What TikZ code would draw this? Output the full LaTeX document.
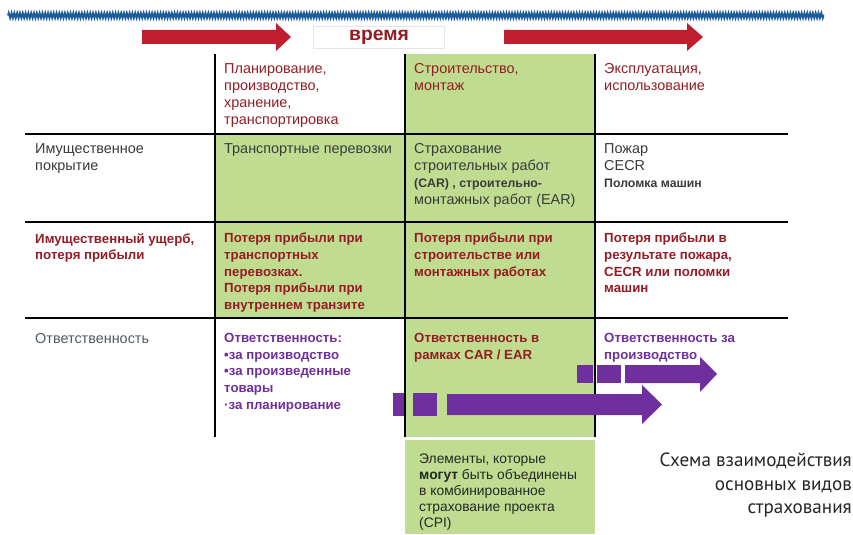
\documentclass[tikz,border=0pt]{standalone}
\usepackage{fontspec}
\setmainfont{Liberation Sans}
\newfontfamily\capfont{PT Sans}
\usetikzlibrary{decorations.pathmorphing}

\definecolor{darkred}{HTML}{951C24}
\definecolor{arrowred}{HTML}{BE1E2D}
\definecolor{cellgreen}{HTML}{C0DC90}
\definecolor{lilac}{HTML}{6F2F9F}
\definecolor{inkgray}{HTML}{3A3A3A}
\definecolor{slate}{HTML}{4E5A66}
\definecolor{waveblue}{HTML}{1D5C9C}

\tikzset{
  cell/.style={anchor=north west, align=left, inner sep=0pt,
    font=\fontsize{12.3}{14.7}\selectfont},
  cellbold/.style={cell, font=\fontsize{11.3}{14.2}\selectfont\bfseries},
  rule/.style={black, line width=1.5pt},
  colline/.style={black, line width=1.1pt},
}

\begin{document}
\begin{tikzpicture}[x=0.03cm, y=-0.03cm]

\useasboundingbox[fill=white] (0,0) rectangle (853,534);

% green cells
\fill[cellgreen] (405,54) rectangle (595,437);
\fill[cellgreen] (215,134) rectangle (405,318);
\fill[cellgreen] (405,440) rectangle (595,534);

% blue wavy line
\draw[waveblue, line width=1.6pt, decorate,
  decoration={zigzag, segment length=2.4pt, amplitude=2.1pt}] (8,15.5) -- (824,15.5);

% time arrows
\fill[arrowred] (142,30) -- (276,30) -- (276,23) -- (291,37) -- (276,51) -- (276,44) -- (142,44) -- cycle;
\fill[arrowred] (504,30) -- (687,30) -- (687,23) -- (703,37) -- (687,51) -- (687,44) -- (504,44) -- cycle;
\node[draw=black!10, fill=white, minimum width=131*0.03cm, minimum height=22*0.03cm,
  inner sep=0pt, text=darkred, font=\fontsize{16.5}{18}\selectfont\bfseries] (time) at (379,37) {время};

% grid
\draw[colline] (215,54) -- (215,437);
\draw[colline] (405,54) -- (405,437);
\draw[colline] (595,54) -- (595,437);
\draw[rule] (25,134) -- (788,134);
\draw[rule] (25,222) -- (788,222);
\draw[rule] (25,318) -- (788,318);

% nodes
{
\node[cell, text=darkred] (plan) at (224,63)
  {Планирование,\\производство,\\хранение,\\транспортировка};
\node[cell, text=darkred] (build) at (414,63) {Строительство,\\монтаж};
\node[cell, text=darkred] (use) at (604,63) {Эксплуатация,\\использование};

\node[cell, text=inkgray] (prop) at (35,143) {Имущественное\\покрытие};
\node[cell, text=inkgray] (transp) at (224,143) {Транспортные перевозки};
\node[cell, text=inkgray] (car) at (414,143)
  {Страхование\\строительных работ\\{\fontsize{10.5}{14.7}\selectfont\bfseries (CAR) , строительно-}\\монтажных работ (EAR)};
\node[cell, text=inkgray] (fire) at (604,143)
  {Пожар\\CECR\\{\fontsize{10.5}{14.7}\selectfont\bfseries Поломка машин}};

\node[cellbold, text=darkred] (loss) at (35,233) {Имущественный ущерб,\\потеря прибыли};
\node[cellbold, text=darkred] (losstr) at (224,233)
  {Потеря прибыли при\\транспортных\\перевозках.\\Потеря прибыли при\\внутреннем транзите};
\node[cellbold, text=darkred] (lossbu) at (414,233)
  {Потеря прибыли при\\строительстве или\\монтажных работах};
\node[cellbold, text=darkred] (lossfi) at (604,233)
  {Потеря прибыли в\\результате пожара,\\CECR или поломки\\машин};

\node[cell, text=slate] (liab) at (35,333) {Ответственность};
\node[cellbold, text=lilac] (liabpr) at (224,333)
  {Ответственность:\\•за производство\\•за произведенные\\товары\\·за планирование};
\node[cellbold, text=darkred] (liabcar) at (414,333) {Ответственность в\\рамках CAR / EAR};
\node[cellbold, text=lilac] (liabop) at (604,333) {Ответственность за\\производство};

\node[cell, text=black!85, font=\fontsize{11.8}{13.6}\selectfont] (cpi) at (419,454)
  {Элементы, которые\\\textbf{могут} быть объединены\\в комбинированное\\страхование проекта\\(CPI)};

\node[anchor=north east, align=right, inner sep=0pt, text=black!85,
  font=\capfont\fontsize{16.3}{20}\selectfont] (caption) at (852,453)
  {Схема взаимодействия\\основных видов\\страхования};
}

% liability arrows
\fill[lilac] (577,365) rectangle (593,383);
\fill[lilac] (597,365) rectangle (621,383);
\fill[lilac] (625,365) -- (700,365) -- (700,357) -- (717,374) -- (700,392) -- (700,383) -- (625,383) -- cycle;
\fill[lilac] (393,393) rectangle (404,416);
\fill[lilac] (413,393) rectangle (437,416);
\fill[lilac] (447,394) -- (642,394) -- (642,385) -- (662,404.5) -- (642,424) -- (642,415) -- (447,415) -- cycle;

\end{tikzpicture}
\end{document}
